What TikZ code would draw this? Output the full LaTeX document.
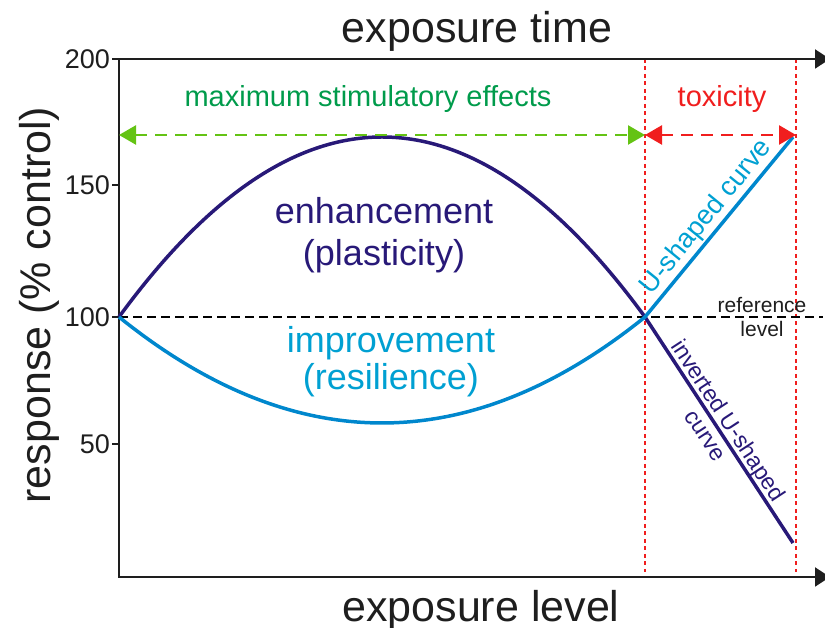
\documentclass[tikz,border=0pt]{standalone}
\usepackage{fontspec}
\setmainfont{Liberation Sans}
\usetikzlibrary{arrows.meta,calc}
\definecolor{darkcurve}{RGB}{40,25,120}
\definecolor{lightcurve}{RGB}{0,135,205}
\definecolor{lighttext}{RGB}{0,160,210}
\definecolor{greentext}{RGB}{0,155,75}
\definecolor{greenarrow}{RGB}{100,195,20}
\definecolor{redc}{RGB}{240,30,30}
\definecolor{axisc}{RGB}{30,30,30}
\tikzset{
  axisline/.style={draw=axisc, line width=2pt, {Triangle[length=15pt,width=19pt]}-{Triangle[length=15pt,width=19pt]}},
  tickline/.style={draw=axisc, line width=1.5pt},
  ticklabel/.style={anchor=east, inner sep=0pt, text=axisc, font=\fontsize{27}{32}\selectfont},
  bigtext/.style={inner sep=0pt, text=axisc, font=\fontsize{43}{50}\selectfont},
  darkline/.style={draw=darkcurve, line width=3.5pt},
  lightline/.style={draw=lightcurve, line width=3.5pt},
  refline/.style={draw=black, line width=2pt, dash pattern=on 9pt off 5pt},
  reddot/.style={draw=redc, line width=2pt, dash pattern=on 4pt off 3.5pt},
  greenarr/.style={draw=greenarrow, line width=2.5pt, dash pattern=on 12pt off 8pt,
    {Triangle[length=17pt,width=19pt,fill=greenarrow]}-{Triangle[length=17pt,width=19pt,fill=greenarrow]}},
  redarr/.style={draw=redc, line width=2.5pt, dash pattern=on 12pt off 8pt,
    {Triangle[length=17pt,width=19pt,fill=redc]}-{Triangle[length=17pt,width=19pt,fill=redc]}},
  curvelabel/.style={inner sep=0pt, align=center},
}
\begin{document}
\begin{tikzpicture}[x=1pt,y=1pt]
\useasboundingbox (0,0) rectangle (825,628);
% key points
\coordinate (O) at (119,51);
\coordinate (TL) at (119,569);
\coordinate (BR) at (830,51);
\coordinate (TR) at (830,569);
\coordinate (A) at (119,311);
\coordinate (X) at (645,311);
\coordinate (Dend) at (793,85);
\coordinate (Lend) at (793,491);
\coordinate (Rref) at (823,311);
\coordinate (R0t) at (645,569);
\coordinate (R0b) at (645,56);
\coordinate (R1t) at (796,569);
\coordinate (R1b) at (796,56);
\coordinate (G0) at (119,493);
\coordinate (G1) at (645,493);
\coordinate (G2) at (796,493);
% red dotted limits
\draw[reddot] (R0t) -- (R0b);
\draw[reddot] (R1t) -- (R1b);
% axes
\draw[axisline] (TR) -- (TL) -- (O) -- (BR);
\foreach \y/\lab in {569/200,443/150,311/100,184/50}{
  \draw[tickline] (119,\y) -- (112,\y);
  \node[ticklabel] (t\lab) at (110,\y) {\lab};
}
% reference level
\draw[refline] (A) -- (Rref);
% curves (parabolic arcs)
\draw[darkline] (A) .. controls (294.3,551) and (469.7,551) .. (X) -- (Dend);
\draw[lightline] (A) .. controls (294.3,169.7) and (469.7,169.7) .. (X) -- (Lend);
% range arrows
\draw[greenarr] (G0) -- (G1);
\draw[redarr] (G1) -- (G2);
% texts
\node[bigtext, anchor=base] (xtime) at (477,585) {exposure time};
\node[bigtext, anchor=base] (xlevel) at (481,6) {exposure level};
\node[bigtext, anchor=base, rotate=90] (ylab) at (50,323) {response (\% control)};
\node[inner sep=0pt, anchor=base, text=greentext, font=\fontsize{29}{34}\selectfont] (maxs) at (368,521) {maximum stimulatory effects};
\node[inner sep=0pt, anchor=base, text=redc, font=\fontsize{29}{34}\selectfont] (tox) at (722,521) {toxicity};
\node[curvelabel, text=darkcurve, font=\fontsize{36}{42}\selectfont] (enh) at (384,393) {enhancement\\(plasticity)};
\node[curvelabel, text=lighttext, font=\fontsize{36}{37}\selectfont] (imp) at (391,266) {improvement\\(resilience)};
\node[inner sep=0pt, align=center, text=axisc, font=\fontsize{21}{24}\selectfont] (reflab) at (762,311) {reference\\level};
\node[inner sep=0pt, anchor=base, rotate=50.9, text=lighttext, font=\fontsize{27}{32}\selectfont] (ulab) at ($(X)!0.5!(Lend)!9pt!90:(Lend)$) {U-shaped curve};
\node[inner sep=0pt, align=center, rotate=-56.8, text=darkcurve, font=\fontsize{23}{27.5}\selectfont] (ilab) at ($(X)!0.49!(Dend)$) {inverted U-shaped\\curve};
\end{tikzpicture}
\end{document}
